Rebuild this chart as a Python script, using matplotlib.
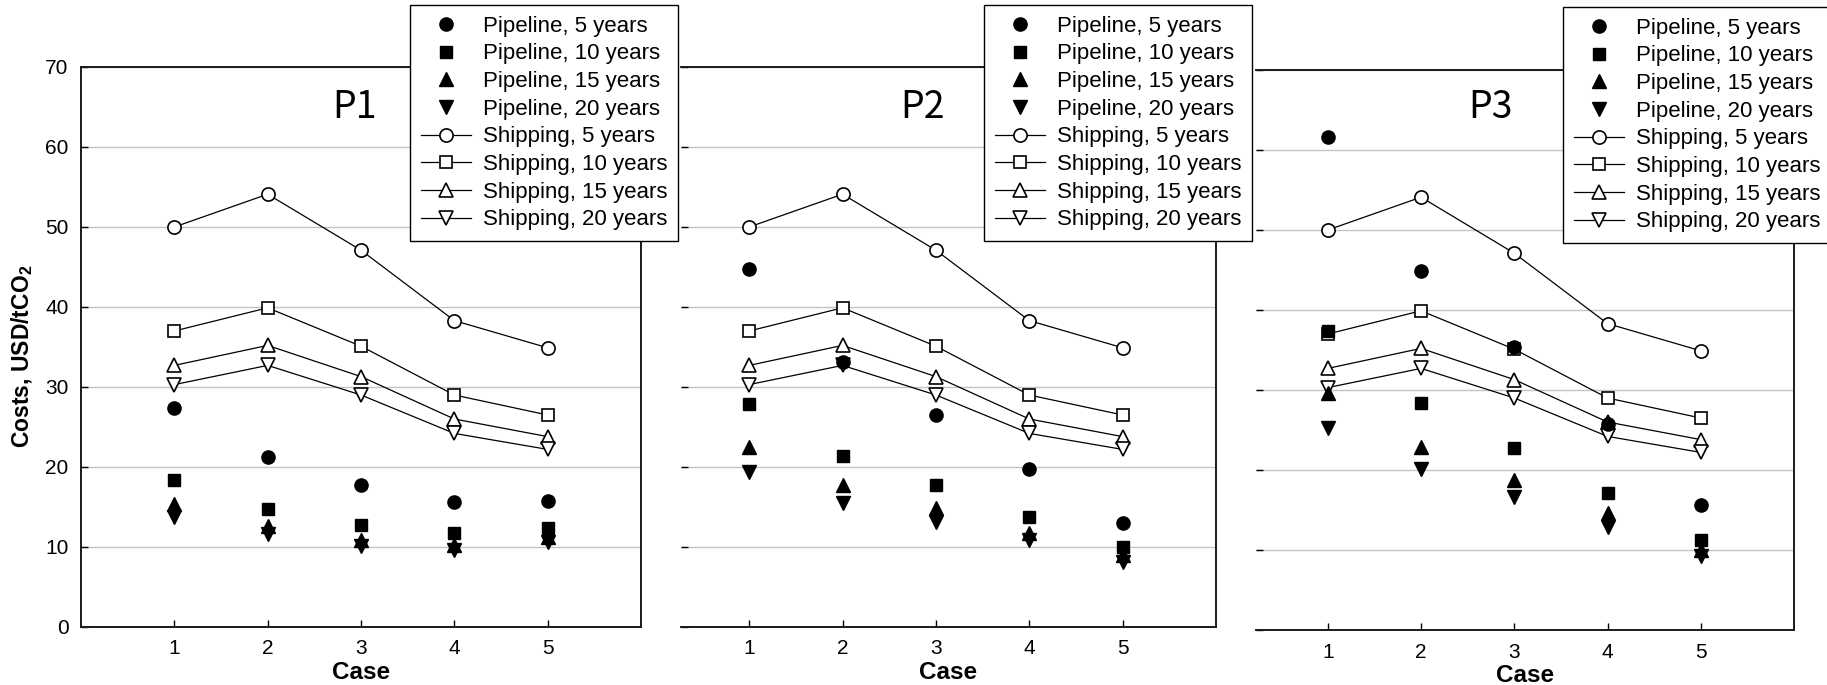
"""Transport cost per tonne of CO2, pipeline vs shipping, for three pipeline routes P1-P3."""
import matplotlib
matplotlib.use("Agg")
from matplotlib import pyplot as plt

CASES = [1, 2, 3, 4, 5]
YEARS = [5, 10, 15, 20]

# shipping costs are the same in all three panels
SHIP_5 = [50.0, 54.1, 47.1, 38.3, 34.9]
SHIP_10 = [37.0, 39.9, 35.1, 29.0, 26.5]
SHIP_15 = [32.7, 35.2, 31.3, 26.0, 23.8]
SHIP_20 = [30.3, 32.7, 29.0, 24.2, 22.2]

P1_PIPE_5 = [27.4, 21.3, 17.8, 15.6, 15.8]
P1_PIPE_10 = [18.4, 14.8, 12.8, 11.7, 12.4]
P1_PIPE_15 = [15.4, 12.6, 10.9, 10.2, 11.2]
P1_PIPE_20 = [13.8, 11.6, 10.1, 9.6, 10.6]

P2_PIPE_5 = [44.7, 33.1, 26.5, 19.7, 13.0]
P2_PIPE_10 = [27.9, 21.4, 17.7, 13.7, 10.0]
P2_PIPE_15 = [22.5, 17.7, 14.9, 11.7, 9.0]
P2_PIPE_20 = [19.4, 15.5, 13.1, 10.9, 8.1]

P3_PIPE_5 = [61.6, 44.9, 35.4, 25.7, 15.6]
P3_PIPE_10 = [37.4, 28.4, 22.8, 17.1, 11.3]
P3_PIPE_15 = [29.6, 22.9, 18.8, 14.6, 10.0]
P3_PIPE_20 = [25.3, 20.1, 16.6, 12.9, 9.3]

PANEL_NAMES = ["P1", "P2", "P3"]

FIG_W, FIG_H = 1827, 685
# axes boxes in pixels: left, right, top, bottom
BOXES = [(81, 641, 67, 627), (681, 1216, 67, 627), (1256, 1794, 70, 630)]
XLIMS = [(0, 6), (0.27, 6), (0.23, 6)]
LEGEND_AT = [(410, 5), (984, 5), (1563, 7)]
TITLE_AT = [(355, 108), (923, 108), (1491, 108)]

PIPE_MARKERS = ["o", "s", "^", "v"]
SHIP_MARKERS = ["o", "s", "^", "v"]

plt.rcParams["font.family"] = ["Liberation Sans", "DejaVu Sans"]
plt.rcParams["mathtext.fontset"] = "custom"
plt.rcParams["mathtext.rm"] = "Liberation Sans"
plt.rcParams["mathtext.bf"] = "Liberation Sans:bold"


def px_to_fig(x, y):
    """Pixel position (from top-left) to figure fraction."""
    return x / FIG_W, 1 - y / FIG_H


def draw_panel(fig, idx, pipelines, shipping):
    """Draw one panel with its pipeline points, shipping lines and legend."""
    left, right, top, bottom = BOXES[idx]
    fx, fy = px_to_fig(left, bottom)
    ax = fig.add_axes([fx, fy, (right - left) / FIG_W, (bottom - top) / FIG_H])

    for vals, mk, yr in zip(pipelines, PIPE_MARKERS, YEARS):
        ms = 8.5 if mk == "s" else 9.5
        ax.plot(CASES, vals, linestyle="none", marker=mk, ms=ms, color="black",
                label=f"Pipeline, {yr} years", zorder=4)
    for vals, mk, yr in zip(shipping, SHIP_MARKERS, YEARS):
        ms = 8.5 if mk == "s" else 9.5
        ax.plot(CASES, vals, color="black", lw=0.9, marker=mk, ms=ms, mfc="white",
                mec="black", mew=1.2, label=f"Shipping, {yr} years", zorder=3)

    ax.set_xlim(*XLIMS[idx])
    ax.set_ylim(0, 70)
    ax.set_xticks(CASES)
    ax.set_yticks(range(0, 71, 10))
    ax.yaxis.grid(True, color="#c4c4bc", lw=1.0)
    ax.set_axisbelow(True)
    ax.tick_params(direction="in", length=5, width=1, labelsize=15, pad=9)
    for side in ["left", "right", "top", "bottom"]:
        ax.spines[side].set_linewidth(1.4)
        ax.spines[side].set_color("#1a1a1a")

    if idx == 0:
        ax.set_ylabel(r"Costs, USD/tCO$_\mathbf{2}$", fontsize=16.5, fontweight="bold")
        ax.yaxis.set_label_coords(-0.082, 0.484)
    else:
        ax.spines["left"].set_visible(False)
        ax.tick_params(axis="y", labelleft=False)

    ax.set_xlabel("Case", fontsize=17.5, fontweight="bold", labelpad=1.5)

    tx, ty = TITLE_AT[idx]
    fig.text(tx / FIG_W, 1 - ty / FIG_H, PANEL_NAMES[idx], fontsize=27,
             family=["Noto Sans CJK KR", "DejaVu Sans"], ha="center", va="center")

    lx, ly = LEGEND_AT[idx]
    leg = ax.legend(loc="upper left", bbox_to_anchor=px_to_fig(lx, ly),
                    bbox_transform=fig.transFigure, borderaxespad=0, fontsize=16,
                    frameon=True, fancybox=False, edgecolor="black", framealpha=1,
                    numpoints=1, handlelength=2.25, handletextpad=0.55,
                    labelspacing=0.3, borderpad=0.48)
    leg.get_frame().set_linewidth(1.0)
    leg.set_zorder(10)
    return ax


def main():
    fig = plt.figure(figsize=(FIG_W / 100, FIG_H / 100), dpi=100)
    shipping = [SHIP_5, SHIP_10, SHIP_15, SHIP_20]
    panels = [
        [P1_PIPE_5, P1_PIPE_10, P1_PIPE_15, P1_PIPE_20],
        [P2_PIPE_5, P2_PIPE_10, P2_PIPE_15, P2_PIPE_20],
        [P3_PIPE_5, P3_PIPE_10, P3_PIPE_15, P3_PIPE_20],
    ]
    for idx, pipes in enumerate(panels):
        draw_panel(fig, idx, pipes, shipping)
    fig.savefig("out.png", dpi=100)


if __name__ == "__main__":
    main()
